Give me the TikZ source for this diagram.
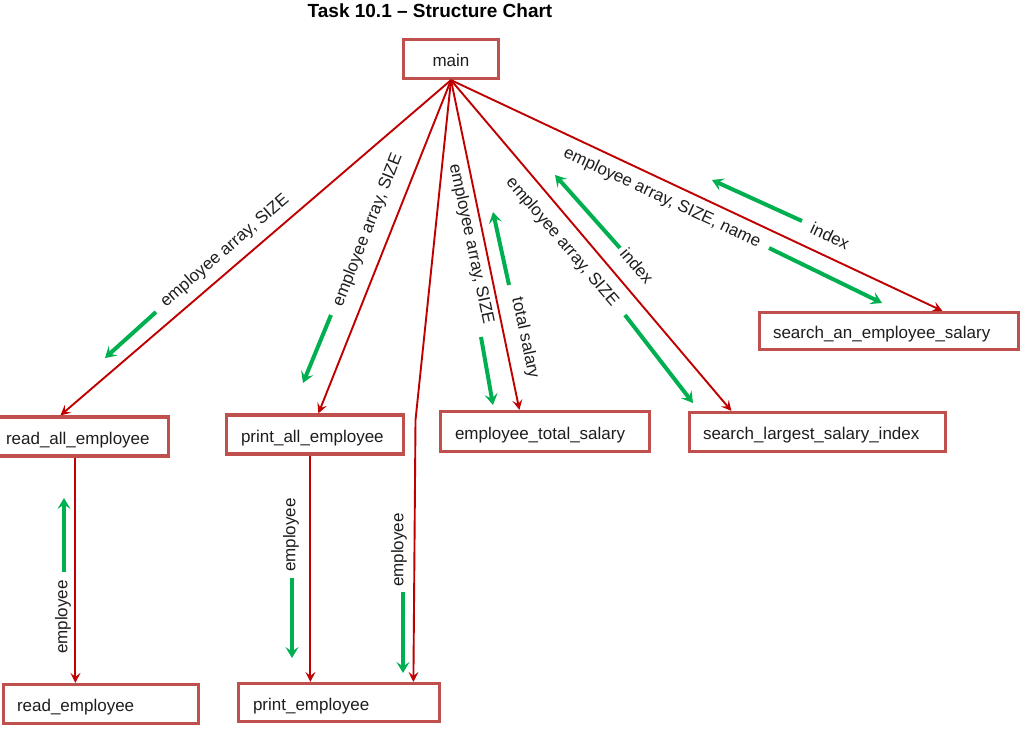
\documentclass[tikz,border=0pt]{standalone}
\usepackage{fontspec}
\setmainfont{Liberation Sans}
\usetikzlibrary{arrows.meta}
\definecolor{boxred}{RGB}{192,80,77}
\definecolor{linered}{RGB}{192,0,0}
\definecolor{flowgreen}{RGB}{0,176,80}
\definecolor{txt}{RGB}{30,30,30}
\begin{document}
\begin{tikzpicture}[x=1pt,y=-1pt,
  modbox/.style={draw=boxred, line width=3.2pt, fill=white, text=txt,
    font=\fontsize{17}{20}\selectfont, minimum height=39pt, inner ysep=0pt,
    text height=15pt, text depth=0pt, align=left},
  redline/.style={draw=linered, line width=1.9pt,
    -{Stealth[length=10pt,width=10pt,inset=4pt]}},
  flow/.style={draw=flowgreen, line width=4pt,
    -{Stealth[length=11pt,width=13pt,inset=4.5pt]}},
  lbl/.style={text=txt, font=\fontsize{17}{20}\selectfont, inner sep=0pt}]
\useasboundingbox (0,0) rectangle (1024,753);
\fill[white] (0,0) rectangle (1024,753);

% title
\node[font=\bfseries\fontsize{19}{22}\selectfont, text=black] (title) at (430,11) {Task 10.1 -- Structure Chart};

% modules
\node[modbox, minimum width=95pt, align=center, inner xsep=0pt] (main) at (451,59) {main};
\node[modbox, text width=147.5pt, inner xsep=15pt] (readall) at (79.75,436.5) {read\_all\_employee};
\node[modbox, text width=148pt, inner xsep=14.5pt] (printall) at (315,434.5) {print\_all\_employee};
\node[modbox, text width=168pt, inner xsep=13.5pt] (reademp) at (101,704) {read\_employee};
\node[modbox, text width=172pt, inner xsep=14.5pt, minimum height=38pt] (printemp) at (339,702.5) {print\_employee};
\node[modbox, text width=180pt, inner xsep=14.5pt, minimum height=40pt] (total) at (545,431.5) {employee\_total\_salary};
\node[modbox, text width=229pt, inner xsep=13.5pt] (largest) at (817.5,432) {search\_largest\_salary\_index};
\node[modbox, text width=232pt, inner xsep=13.5pt, minimum height=37pt] (searchan) at (889,331) {search\_an\_employee\_salary};

% red connectors
\draw[redline] (main.south) -- ([xshift=71pt]readall.north west);
\draw[redline] (main.south) -- ([xshift=93.5pt]printall.north west);
\coordinate (bend) at (415.5,420);
\draw[redline] (main.south) -- (bend) -- ([xshift=176.5pt]printemp.north west);
\draw[redline] (main.south) -- ([xshift=80.5pt]total.north west);
\draw[redline] (main.south) -- ([xshift=43.5pt]largest.north west);
\draw[redline] (main.south) -- ([xshift=184.5pt]searchan.north west);
\draw[redline, line width=2pt] ([xshift=86pt]readall.south west) -- ([xshift=86pt]readall.south west |- reademp.north);
\draw[redline, line width=2pt] ([xshift=85.5pt]printall.south west) -- ([xshift=85.5pt]printall.south west |- printemp.north);

% labels
\node[lbl, rotate=40.7] (l1) at (225,251) {employee array, SIZE};
\node[lbl, rotate=68.4] (l2) at (368,230) {employee array, SIZE};
\node[lbl, rotate=-78] (l3) at (471,244) {employee array, SIZE};
\node[lbl, rotate=-78] (l4) at (525,338) {total salary};
\node[lbl, rotate=-49.5] (l5) at (562,242) {employee array, SIZE};
\node[lbl, rotate=-49.5] (l6) at (637,266) {index};
\node[lbl, rotate=-25] (l7) at (662,198) {employee array, SIZE, name};
\node[lbl, rotate=-25] (l8) at (830,236) {index};
\node[lbl, rotate=90] (l9) at (63,617) {employee};
\node[lbl, rotate=90] (l10) at (291,535) {employee};
\node[lbl, rotate=90] (l11) at (399,550) {employee};

% green data-flow arrows
\coordinate (g1a) at (156,312); \coordinate (g1b) at (105,358);
\coordinate (g2a) at (331,315); \coordinate (g2b) at (303,383);
\coordinate (g3a) at (481,337); \coordinate (g3b) at (493,405);
\coordinate (g4a) at (509,285); \coordinate (g4b) at (493,212);
\coordinate (g5a) at (625,315); \coordinate (g5b) at (693,403);
\coordinate (g6a) at (620,248); \coordinate (g6b) at (555,175);
\coordinate (g7a) at (769,248); \coordinate (g7b) at (882,303);
\coordinate (g8a) at (802,221); \coordinate (g8b) at (712,180);
\coordinate (g9a) at (64,572); \coordinate (g9b) at (64,498);
\coordinate (g10a) at (292,578); \coordinate (g10b) at (292,658);
\coordinate (g11a) at (403,592); \coordinate (g11b) at (403,673);
\foreach \i in {1,...,11} {\draw[flow] (g\i a) -- (g\i b);}
\end{tikzpicture}
\end{document}
